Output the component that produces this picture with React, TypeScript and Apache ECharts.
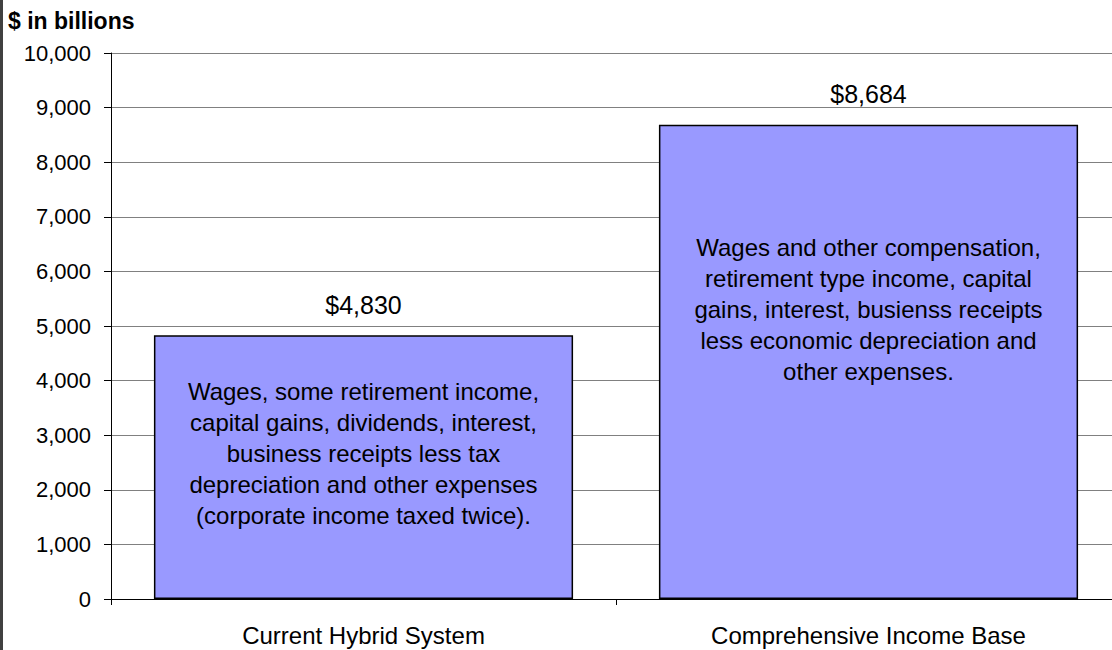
import React, { useEffect, useRef } from "react";
import * as echarts from "echarts";

const categories = ["Current Hybrid System", "Comprehensive Income Base"];
const values = [4830, 8684];
const valueLabels = ["$4,830", "$8,684"];
const descriptions = [
  "Wages, some retirement income,\ncapital gains, dividends, interest,\nbusiness receipts less tax\ndepreciation and other expenses\n(corporate income taxed twice).",
  "Wages and other compensation,\nretirement type income, capital\ngains, interest, busienss receipts\nless economic depreciation and\nother expenses.",
];
const descriptionAnchors = [2665, 5302];
const yTicks = { min: 0, max: 10000, interval: 1000 };
const titleText = "$ in billions";

const FONT = "'Liberation Sans', Arial, Helvetica, sans-serif";

export default function App() {
  const ref = useRef<HTMLDivElement>(null);
  useEffect(() => {
    document.body.style.margin = "0";
    const chart = echarts.init(ref.current!, null, { renderer: "svg" });
    chart.setOption({
      animation: false,
      backgroundColor: "#ffffff",
      textStyle: { fontFamily: FONT },
      title: {
        text: titleText,
        left: 3,
        top: 4,
        textStyle: { fontFamily: FONT, fontSize: 23, fontWeight: "bold", color: "#000" },
      },
      graphic: [
        {
          type: "rect",
          shape: { x: 0, y: 0, width: 3, height: 650 },
          style: { fill: "#404040" },
          silent: true,
        },
      ],
      grid: {
        left: 111,
        top: 53,
        width: 1010,
        height: 546,
        containLabel: false,
        outerBoundsMode: "none",
      },
      xAxis: {
        type: "category",
        data: categories,
        axisLine: { lineStyle: { color: "#000", width: 1 } },
        axisTick: { show: true, alignWithLabel: false, length: 6, lineStyle: { color: "#000" } },
        axisLabel: { fontFamily: FONT, fontSize: 24, color: "#000", margin: 24 },
      },
      yAxis: {
        type: "value",
        min: yTicks.min,
        max: yTicks.max,
        interval: yTicks.interval,
        axisLine: { show: true, lineStyle: { color: "#000", width: 1 } },
        axisTick: { show: true, length: 7, lineStyle: { color: "#000" } },
        axisLabel: {
          fontFamily: FONT,
          fontSize: 22,
          color: "#000",
          margin: 20,
          formatter: (v: number) => v.toLocaleString("en-US"),
        },
        splitLine: { show: true, lineStyle: { color: "#808080", width: 1 } },
      },
      series: [
        {
          type: "bar",
          data: values,
          barCategoryGap: "17%",
          itemStyle: { color: "#9999FF", borderColor: "#000", borderWidth: 1.5 },
          label: {
            show: true,
            position: "top",
            distance: 18,
            fontFamily: FONT,
            fontSize: 25,
            color: "#000",
            formatter: (p: any) => valueLabels[p.dataIndex],
          },
          markPoint: {
            symbol: "circle",
            symbolSize: 0,
            data: categories.map((c, i) => ({
              coord: [i, descriptionAnchors[i]],
              value: descriptions[i],
            })),
            label: {
              show: true,
              position: "inside",
              fontFamily: FONT,
              fontSize: 24,
              lineHeight: 31,
              color: "#000",
              align: "center",
              formatter: (p: any) => descriptions[p.dataIndex],
            },
          },
        },
      ],
    });
    return () => chart.dispose();
  }, []);
  return <div ref={ref} style={{ width: 1112, height: 650 }} />;
}
